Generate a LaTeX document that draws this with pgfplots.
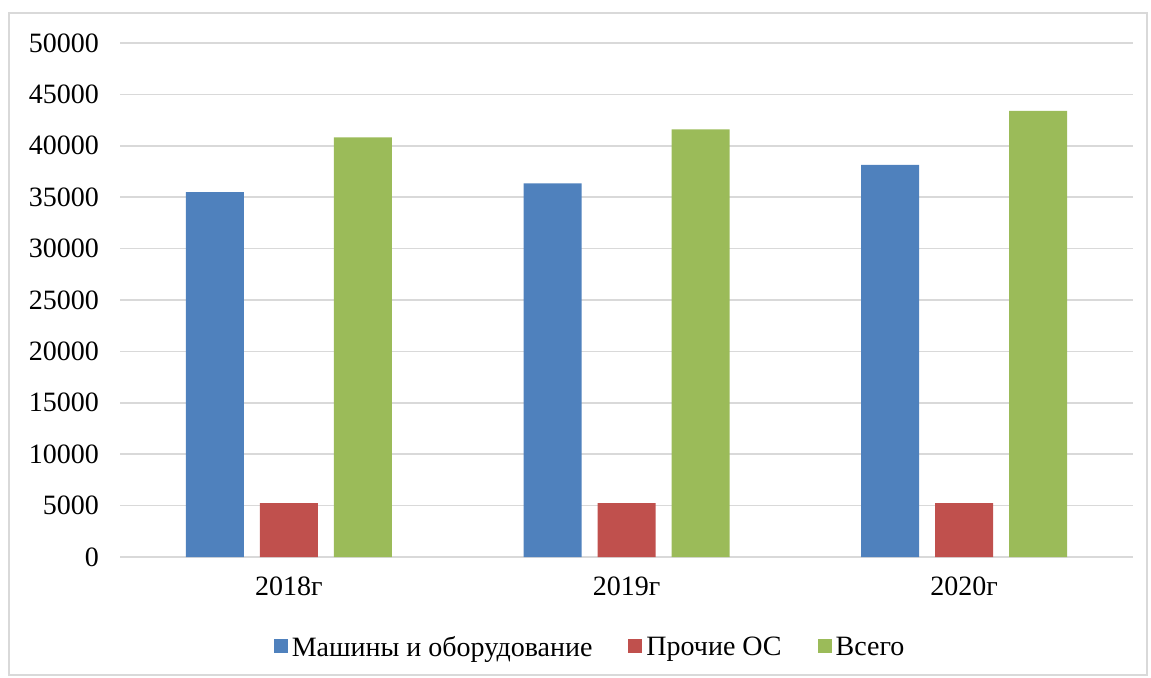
\documentclass[border=0pt]{standalone}
\usepackage{fontspec}
\setmainfont{Liberation Serif}
\usepackage{pgfplots}
\pgfplotsset{compat=1.18}
\definecolor{cblue}{HTML}{4F81BD}
\definecolor{cred}{HTML}{C0504D}
\definecolor{cgreen}{HTML}{9BBB59}
\definecolor{cgrid}{HTML}{D9D9D9}
\begin{document}
\begin{tikzpicture}[font=\fontsize{14}{16}\selectfont]
\useasboundingbox (0,0) rectangle (575.5pt,338.5pt);
\draw[cgrid, line width=0.8pt] (4.5pt,1pt) rectangle (573.5pt,332pt);
\begin{axis}[
  at={(60pt,60pt)}, anchor=south west,
  scale only axis, width=506.5pt, height=257pt,
  ybar=8pt, bar width=29pt,
  xmin=-0.5, xmax=2.5, ymin=0, ymax=50000,
  xtick=data, xticklabels={2018г,2019г,2020г},
  ytick={0,5000,...,50000},
  scaled y ticks=false,
  /pgf/number format/assume math mode=true,
  yticklabel style={/pgf/number format/fixed, /pgf/number format/1000 sep={}},
  ymajorgrids, grid style={cgrid, line width=0.8pt},
  axis line style={draw=none},
  axis x line*=bottom, axis y line*=left,
  extra y ticks={0}, extra y tick labels={},
  extra y tick style={grid style={cgrid, line width=0.8pt}},
  major tick length=0pt,
  yticklabel style={xshift=-7pt},
  xticklabel style={yshift=-6.5pt},
  legend style={at={(0.465,-0.177)}, anchor=center, draw=none, legend columns=3,
    /tikz/every even column/.append style={column sep=16pt}},
  legend image code/.code={\fill[#1] (0pt,-2.5pt) rectangle (7pt,4.5pt);},
]
\addplot[fill=cblue, draw=none] coordinates {(0,35500) (1,36350) (2,38150)};
\addplot[fill=cred, draw=none] coordinates {(0,5250) (1,5250) (2,5250)};
\addplot[fill=cgreen, draw=none] coordinates {(0,40820) (1,41600) (2,43400)};
\legend{Машины и оборудование, Прочие ОС, Всего}
\end{axis}
\end{tikzpicture}
\end{document}
